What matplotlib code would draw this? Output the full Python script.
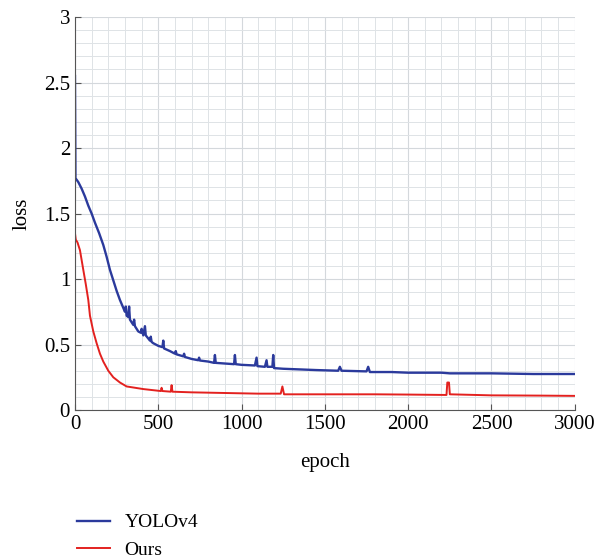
import numpy as np
import matplotlib.pyplot as plt
from matplotlib.ticker import MultipleLocator

plt.rcParams['font.family'] = ['Liberation Serif', 'DejaVu Serif']

# YOLOv4 loss (spikes included)
yolo_epoch = [0, 3, 20, 40, 60, 80, 100, 120, 145, 170, 190, 210, 230, 250, 270, 290,
              300, 305, 310, 320, 325, 330, 350, 355, 360, 380, 395, 400, 410, 420, 425,
              450, 455, 460, 470, 500, 525, 530, 535, 570, 600, 605, 610, 650, 655, 660,
              700, 740, 745, 750, 800, 835, 840, 845, 900, 955, 960, 965, 1000,
              1080, 1090, 1095, 1140, 1150, 1155, 1185, 1190, 1195, 1250, 1350, 1450,
              1580, 1590, 1600, 1750, 1760, 1770, 1900, 2000, 2200, 2250, 2500, 2750, 3000]
yolo_loss = [2.55, 1.77, 1.74, 1.69, 1.63, 1.56, 1.50, 1.43, 1.35, 1.26, 1.17, 1.07, 0.99,
             0.91, 0.84, 0.78, 0.75, 0.79, 0.72, 0.71, 0.79, 0.69, 0.65, 0.69, 0.64, 0.60,
             0.59, 0.62, 0.57, 0.64, 0.57, 0.53, 0.56, 0.52, 0.51, 0.49, 0.48, 0.53, 0.47,
             0.45, 0.43, 0.45, 0.425, 0.41, 0.43, 0.405, 0.39, 0.38, 0.40, 0.378, 0.37,
             0.36, 0.42, 0.36, 0.355, 0.35, 0.42, 0.35, 0.345, 0.34, 0.40, 0.335, 0.33,
             0.38, 0.33, 0.33, 0.42, 0.32, 0.315, 0.31, 0.305, 0.30, 0.33, 0.30, 0.295,
             0.33, 0.29, 0.29, 0.285, 0.285, 0.28, 0.28, 0.275, 0.275]

# Ours loss
ours_epoch = [0, 5, 15, 30, 50, 65, 80, 90, 110, 130, 150, 170, 200, 230, 270, 310, 360,
              410, 480, 515, 520, 525, 575, 580, 585, 700, 900, 1100, 1235, 1245, 1255,
              1500, 1800, 2000, 2230, 2235, 2245, 2250, 2500, 2800, 3000]
ours_loss = [1.35, 1.30, 1.28, 1.22, 1.07, 0.96, 0.84, 0.72, 0.60, 0.51, 0.43, 0.37, 0.30,
             0.25, 0.21, 0.18, 0.17, 0.16, 0.15, 0.145, 0.17, 0.145, 0.14, 0.19, 0.14,
             0.135, 0.13, 0.125, 0.125, 0.18, 0.12, 0.12, 0.12, 0.118, 0.115, 0.21, 0.21,
             0.12, 0.112, 0.11, 0.108]

fig = plt.figure(figsize=(5.95, 5.59), dpi=100)
ax = fig.add_axes([0.126, 0.2665, 0.840, 0.703])

ax.plot(yolo_epoch, yolo_loss, color='#2b3a9c', linewidth=1.7, label='YOLOv4')
ax.plot(ours_epoch, ours_loss, color='#e3211f', linewidth=1.4, label='Ours')

ax.set_xlim(0, 3000)
ax.set_ylim(0, 3)
ax.xaxis.set_major_locator(MultipleLocator(500))
ax.xaxis.set_minor_locator(MultipleLocator(100))
ax.yaxis.set_minor_locator(MultipleLocator(0.1))
ax.set_yticks([0, 0.5, 1, 1.5, 2, 2.5, 3])
ax.set_yticklabels(['0', '0.5', '1', '1.5', '2', '2.5', '3'])
ax.grid(which='major', color='#d4d8dc', linewidth=0.8)
ax.grid(which='minor', color='#dfe3e6', linewidth=0.7)
ax.set_axisbelow(True)
ax.tick_params(which='major', direction='in', length=4, labelsize=15, color='#555555')
ax.tick_params(which='minor', length=0)
for s in ['top', 'right']:
    ax.spines[s].set_visible(False)
for s in ['left', 'bottom']:
    ax.spines[s].set_color('#555555')

ax.set_xlabel('epoch', fontsize=15, labelpad=14)
ax.set_ylabel('loss', fontsize=15, labelpad=9)

fig.legend(loc='upper left', bbox_to_anchor=(0.129, 0.081), frameon=False, fontsize=14,
           handlelength=1.7, handletextpad=0.75, labelspacing=0.5,
           borderpad=0, borderaxespad=0)

plt.savefig('out.png')
